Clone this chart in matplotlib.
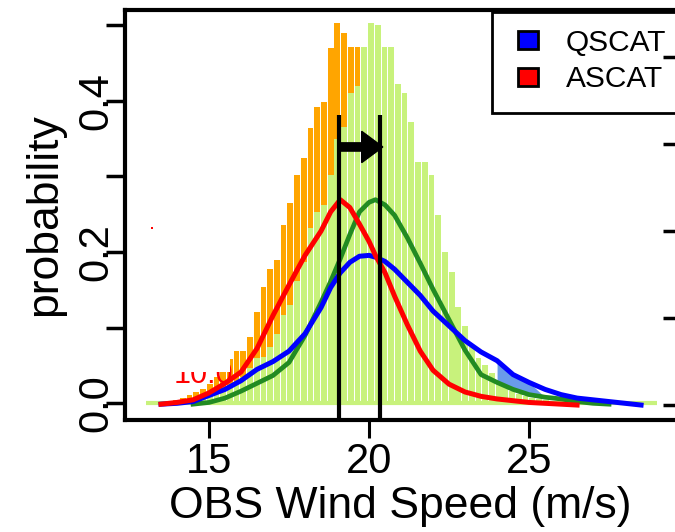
import matplotlib
matplotlib.use('Agg')
import matplotlib.pyplot as plt
import numpy as np
from matplotlib.patches import Patch, Rectangle

plt.rcParams['font.family'] = ['Liberation Sans', 'DejaVu Sans']

# histogram bins (m/s)
bin_start = 13.04
bin_width = 0.21

# OBS histograms (probability), left axis
ascat_hist = [0, 0, 0, 0.002, 0.004, 0.007, 0.010, 0.014, 0.018, 0.025,
              0.035, 0.045, 0.058, 0.069, 0.069, 0.087, 0.121, 0.154, 0.177, 0.190,
              0.236, 0.265, 0.302, 0.325, 0.364, 0.392, 0.398, 0.470, 0.503, 0.490,
              0.471, 0.471, 0.412, 0.370, 0.330, 0.280, 0.230, 0.180, 0.140, 0.100,
              0.070, 0.050, 0.035, 0.025, 0.015, 0.010, 0.006, 0.004, 0.002]
qscat_hist = [0.001, 0.001, 0.001, 0.002, 0.002, 0.003, 0.004, 0.005, 0.007, 0.009,
              0.012, 0.016, 0.022, 0.025, 0.035, 0.047, 0.060, 0.061, 0.074, 0.091,
              0.117, 0.130, 0.161, 0.187, 0.232, 0.253, 0.262, 0.302, 0.350, 0.365,
              0.410, 0.420, 0.471, 0.503, 0.500, 0.471, 0.471, 0.423, 0.410, 0.372,
              0.319, 0.319, 0.302, 0.249, 0.200, 0.174, 0.127, 0.102, 0.074, 0.060,
              0.050, 0.040, 0.030, 0.022, 0.016, 0.012, 0.009, 0.007, 0.005, 0.004,
              0.003, 0.003, 0.002, 0.002, 0.002, 0.001, 0.001, 0.001, 0.001, 0.001,
              0.001, 0.001, 0.001, 0.001, 0.001, 0.001]

# density curves, right axis
nan = np.nan
curve_x = [13.0, 13.5, 14.0, 14.5, 15.0, 15.5, 16.0, 16.5, 17.0, 17.5,
           18.0, 18.5, 18.8, 19.1, 19.4, 19.7, 20.0, 20.2, 20.5, 20.8,
           21.2, 21.6, 22.0, 22.5, 23.0, 23.5, 24.0, 24.5, 25.0, 25.5,
           26.0, 26.5, 27.0, 27.5, 28.0, 28.5]
qscat_pdf = [nan, 0.001, 0.002, 0.004, 0.011, 0.018, 0.028, 0.041, 0.050, 0.062,
             0.082, 0.112, 0.135, 0.152, 0.164, 0.171, 0.172, 0.170, 0.165, 0.156,
             0.141, 0.126, 0.108, 0.091, 0.074, 0.061, 0.051, 0.035, 0.026, 0.018,
             0.012, 0.008, 0.006, 0.004, 0.002, 0.000]
ascat_pdf = [nan, 0.001, 0.003, 0.006, 0.014, 0.025, 0.038, 0.065, 0.103, 0.138,
             0.172, 0.200, 0.222, 0.236, 0.227, 0.208, 0.188, 0.172, 0.152, 0.125,
             0.092, 0.062, 0.040, 0.024, 0.015, 0.010, 0.007, 0.005, 0.003, 0.002,
             0.001, 0.000, nan, nan, nan, nan]
obs_pdf = [nan, nan, nan, 0.001, 0.003, 0.008, 0.016, 0.025, 0.034, 0.049,
           0.080, 0.118, 0.142, 0.168, 0.196, 0.222, 0.233, 0.236, 0.230, 0.218,
           0.192, 0.163, 0.133, 0.098, 0.063, 0.035, 0.026, 0.018, 0.012, 0.009,
           0.007, 0.004, 0.002, 0.001, nan, nan]

mode_ascat = 19.05
mode_qscat = 20.35

orange = '#FFA500'
lightgreen = '#C8F27C'

fig = plt.figure(figsize=(6.75, 5.32), dpi=100)
ax = fig.add_axes([0.1852, 0.2105, 0.8148, 0.7707])

ascat_left = bin_start + bin_width * np.arange(len(ascat_hist))
qscat_left = bin_start + bin_width * np.arange(len(qscat_hist))
ax.bar(ascat_left, ascat_hist, width=bin_width * 0.86, align='edge', color=orange, zorder=2)
ax.bar(qscat_left, qscat_hist, width=bin_width * 0.86, align='edge', color=lightgreen, zorder=2.1)
ax.hlines(0, qscat_left[0], qscat_left[-1] + bin_width, color=lightgreen, lw=3, zorder=2.1)

# leftover bits of the pasted figure
ax.text(13.88, 0.0265, '10.0', color='red', fontsize=22, zorder=2.5)
ax.add_patch(Rectangle((13.4, 0.041), 15.66 - 13.4, 0.032, facecolor='white',
                       edgecolor='none', zorder=3))
ax.plot([13.22], [0.232], 's', color='red', ms=2, mew=0)

ax.set_xlim(12.375, 29.56)
ax.set_ylim(-0.0225, 0.5205)
ax.set_xticks([15, 20, 25])
ax.set_yticks([0, 0.1, 0.2, 0.3, 0.4, 0.5])
ax.set_yticklabels(['0.0', '', '0.2', '', '0.4', ''], rotation=90, va='center')
ax.tick_params(axis='x', length=13, width=2.2, labelsize=30, pad=3)
ax.tick_params(axis='y', length=14, width=2.5, labelsize=30, pad=-8)
ax.set_xlabel('OBS Wind Speed (m/s)', fontsize=32, labelpad=3)
ax.set_ylabel('probability', fontsize=32, labelpad=8)
for s in ['left', 'top', 'bottom']:
    ax.spines[s].set_linewidth(3)
ax.spines['right'].set_visible(False)

# legend box runs off the right edge like the original
ax.add_patch(Rectangle((0.667, 0.749), 0.4, 0.246, transform=ax.transAxes,
                       facecolor='white', edgecolor='black', lw=2, clip_on=False, zorder=4))
handles = [Patch(facecolor='blue', edgecolor='black', lw=2, label='QSCAT'),
           Patch(facecolor='red', edgecolor='black', lw=2, label='ASCAT')]
leg = ax.legend(handles=handles, loc='upper left', bbox_to_anchor=(0.7145, 0.954),
                frameon=False, borderaxespad=0, borderpad=0, fontsize=21.5,
                handlelength=0.66, handleheight=0.56, handletextpad=0.95,
                labelspacing=0.28)
leg.set_zorder(5)

ax2 = ax.twinx()
ax2.set_ylim(-0.0172, 0.454)
x = np.array(curve_x)
blue = np.array(qscat_pdf)
green = np.array(obs_pdf)
tail = (x >= 23.6) & (x <= 25.2)
ax2.fill_between(x, green, blue, where=tail, interpolate=True, color='#6A9BEA', lw=0, zorder=1)
ax2.plot(x, green, color='#228B22', lw=3.4, zorder=2)
ax2.plot(x, blue, color='blue', lw=3.6, zorder=3)
ax2.plot(x, ascat_pdf, color='red', lw=3.6, zorder=4)

ax2.vlines([mode_ascat, mode_qscat], -0.05, 0.333, color='black', lw=3, zorder=5)
ax2.arrow(mode_ascat, 0.2966, mode_qscat - mode_ascat + 0.08, 0, width=0.0095,
          head_width=0.036, head_length=0.66, length_includes_head=True,
          color='black', zorder=6)

ax2.set_yticks([0, 0.1, 0.2, 0.3, 0.4])
ax2.tick_params(axis='y', direction='in', length=9, width=2.5, labelright=False)
for s in ax2.spines.values():
    s.set_visible(False)

fig.savefig('out.png', dpi=100)
